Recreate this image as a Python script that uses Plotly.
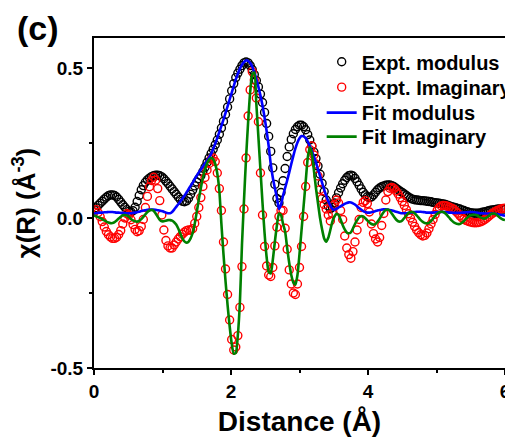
import numpy as np
import plotly.graph_objects as go

# uniform R grid of the Fourier transform (0 to 6 Å, 0.03 Å step)
distance = np.round(np.arange(201) * 0.03, 2)

expt_modulus = [
    0.027, 0.034, 0.042, 0.049, 0.056, 0.063, 0.069, 0.074, 0.077, 0.077,
    0.075, 0.070, 0.062, 0.053, 0.044, 0.036, 0.028, 0.022, 0.020, 0.024,
    0.036, 0.055, 0.075, 0.094, 0.108, 0.119, 0.127, 0.133, 0.138, 0.141,
    0.143, 0.143, 0.141, 0.137, 0.131, 0.123, 0.115, 0.106, 0.097, 0.088,
    0.079, 0.070, 0.062, 0.056, 0.054, 0.057, 0.066, 0.079, 0.093, 0.107,
    0.120, 0.131, 0.141, 0.155, 0.169, 0.185, 0.200, 0.215, 0.229, 0.244,
    0.260, 0.279, 0.300, 0.322, 0.345, 0.370, 0.397, 0.424, 0.448, 0.468,
    0.483, 0.496, 0.508, 0.517, 0.520, 0.517, 0.508, 0.495, 0.478, 0.458,
    0.437, 0.413, 0.385, 0.352, 0.315, 0.272, 0.222, 0.167, 0.112, 0.065,
    0.050, 0.085, 0.124, 0.165, 0.205, 0.237, 0.262, 0.281, 0.295, 0.304,
    0.309, 0.309, 0.304, 0.294, 0.278, 0.260, 0.240, 0.220, 0.198, 0.173,
    0.146, 0.116, 0.088, 0.060, 0.040, 0.031, 0.036, 0.050, 0.067, 0.084,
    0.100, 0.114, 0.126, 0.135, 0.141, 0.143, 0.140, 0.132, 0.121, 0.109,
    0.097, 0.086, 0.077, 0.071, 0.068, 0.070, 0.077, 0.086, 0.094, 0.100,
    0.104, 0.107, 0.109, 0.110, 0.110, 0.108, 0.104, 0.099, 0.094, 0.089,
    0.085, 0.080, 0.075, 0.070, 0.066, 0.063, 0.061, 0.060, 0.059, 0.058,
    0.058, 0.057, 0.056, 0.055, 0.054, 0.052, 0.051, 0.050, 0.049, 0.048,
    0.047, 0.045, 0.043, 0.040, 0.038, 0.036, 0.034, 0.032, 0.030, 0.027,
    0.025, 0.022, 0.020, 0.018, 0.017, 0.016, 0.016, 0.016, 0.017, 0.019,
    0.020, 0.022, 0.024, 0.026, 0.027, 0.028, 0.029, 0.030, 0.030, 0.030,
    0.030,
]

expt_imaginary = [
    0.020, 0.028, 0.018, 0.004, -0.012, -0.030, -0.045, -0.056, -0.063, -0.068,
    -0.068, -0.064, -0.055, -0.042, -0.020, 0.000, 0.014, 0.010, -0.006, -0.022,
    -0.038, -0.046, -0.042, -0.028, -0.005, 0.035, 0.072, 0.104, 0.125, 0.136,
    0.126, 0.098, 0.058, 0.010, -0.040, -0.075, -0.093, -0.100, -0.100, -0.090,
    -0.080, -0.070, -0.062, -0.054, -0.047, -0.042, -0.040, -0.041, -0.036, -0.018,
    0.005, 0.035, 0.068, 0.105, 0.135, 0.160, 0.182, 0.196, 0.200, 0.188,
    0.150, 0.098, 0.025, -0.080, -0.170, -0.255, -0.340, -0.405, -0.440, -0.430,
    -0.392, -0.298, -0.162, 0.030, 0.200, 0.340, 0.427, 0.488, 0.460, 0.400,
    0.321, 0.150, 0.010, -0.095, -0.160, -0.190, -0.195, -0.165, -0.093, -0.031,
    0.005, 0.025, 0.025, -0.034, -0.104, -0.173, -0.220, -0.250, -0.255, -0.220,
    -0.165, -0.095, 0.005, 0.105, 0.185, 0.228, 0.240, 0.210, 0.180, 0.140,
    0.095, 0.065, 0.045, 0.030, 0.010, -0.010, 0.015, 0.045, 0.060, 0.050,
    0.025, -0.005, -0.060, -0.100, -0.122, -0.134, -0.112, -0.080, -0.040, -0.005,
    0.035, 0.052, 0.058, 0.048, 0.020, -0.020, -0.052, -0.070, -0.080, -0.065,
    -0.025, 0.015, 0.060, 0.088, 0.099, 0.102, 0.098, 0.090, 0.080, 0.068,
    0.055, 0.042, 0.028, 0.014, 0.000, -0.014, -0.028, -0.040, -0.049, -0.056,
    -0.060, -0.058, -0.050, -0.036, -0.020, -0.005, 0.012, 0.026, 0.035, 0.040,
    0.042, 0.041, 0.039, 0.036, 0.033, 0.029, 0.023, 0.016, 0.008, 0.001,
    -0.004, -0.008, -0.011, -0.013, -0.015, -0.016, -0.016, -0.015, -0.013, -0.010,
    -0.006, -0.001, 0.005, 0.011, 0.016, 0.020, 0.024, 0.027, 0.030, 0.032,
    0.033,
]

fit_modulus = [
    0.015, 0.016, 0.017, 0.018, 0.018, 0.019, 0.019, 0.020, 0.020, 0.020,
    0.019, 0.018, 0.018, 0.017, 0.017, 0.016, 0.016, 0.016, 0.016, 0.017,
    0.018, 0.019, 0.021, 0.023, 0.025, 0.026, 0.027, 0.028, 0.028, 0.028,
    0.027, 0.026, 0.025, 0.023, 0.021, 0.018, 0.016, 0.016, 0.020, 0.028,
    0.037, 0.046, 0.055, 0.064, 0.074, 0.085, 0.096, 0.107, 0.118, 0.130,
    0.141, 0.152, 0.162, 0.172, 0.182, 0.192, 0.202, 0.214, 0.230, 0.248,
    0.267, 0.287, 0.307, 0.328, 0.350, 0.372, 0.395, 0.417, 0.440, 0.462,
    0.481, 0.498, 0.511, 0.520, 0.525, 0.524, 0.517, 0.505, 0.486, 0.463,
    0.437, 0.408, 0.375, 0.335, 0.290, 0.240, 0.180, 0.135, 0.100, 0.068,
    0.030, 0.045, 0.075, 0.100, 0.125, 0.152, 0.180, 0.207, 0.232, 0.252,
    0.266, 0.273, 0.272, 0.266, 0.255, 0.240, 0.223, 0.205, 0.185, 0.162,
    0.140, 0.117, 0.095, 0.074, 0.056, 0.042, 0.030, 0.028, 0.031, 0.035,
    0.039, 0.043, 0.047, 0.050, 0.052, 0.052, 0.049, 0.045, 0.039, 0.033,
    0.028, 0.023, 0.020, 0.018, 0.018, 0.019, 0.021, 0.023, 0.025, 0.027,
    0.028, 0.029, 0.029, 0.028, 0.027, 0.025, 0.023, 0.021, 0.019, 0.017,
    0.016, 0.016, 0.016, 0.017, 0.018, 0.019, 0.020, 0.021, 0.021, 0.021,
    0.020, 0.019, 0.018, 0.018, 0.018, 0.018, 0.019, 0.019, 0.020, 0.020,
    0.020, 0.020, 0.019, 0.018, 0.018, 0.017, 0.017, 0.017, 0.017, 0.018,
    0.018, 0.019, 0.019, 0.020, 0.020, 0.019, 0.018, 0.017, 0.016, 0.016,
    0.015, 0.015, 0.015, 0.015, 0.014, 0.014, 0.013, 0.012, 0.011, 0.009,
    0.008,
]

fit_imaginary = [
    0.008, 0.006, 0.003, 0.000, -0.004, -0.008, -0.012, -0.015, -0.017, -0.017,
    -0.014, -0.008, -0.002, 0.004, 0.009, 0.010, 0.008, 0.003, -0.003, -0.008,
    -0.011, -0.012, -0.010, -0.004, 0.004, 0.012, 0.020, 0.025, 0.027, 0.024,
    0.015, 0.004, -0.006, -0.011, -0.011, -0.009, -0.007, -0.007, -0.009, -0.014,
    -0.022, -0.035, -0.052, -0.068, -0.078, -0.082, -0.079, -0.068, -0.050, -0.020,
    0.020, 0.062, 0.100, 0.135, 0.162, 0.182, 0.195, 0.200, 0.196, 0.180,
    0.148, 0.090, -0.020, -0.120, -0.210, -0.290, -0.360, -0.418, -0.452, -0.450,
    -0.390, -0.280, -0.090, 0.060, 0.200, 0.320, 0.420, 0.478, 0.485, 0.380,
    0.270, 0.160, 0.050, -0.050, -0.130, -0.180, -0.185, -0.140, -0.080, -0.025,
    0.015, 0.010, -0.020, -0.045, -0.100, -0.150, -0.190, -0.215, -0.222, -0.190,
    -0.120, -0.040, 0.040, 0.120, 0.200, 0.236, 0.215, 0.160, 0.100, 0.049,
    0.000, -0.038, -0.068, -0.079, -0.066, -0.040, -0.012, 0.005, 0.014, 0.010,
    -0.005, -0.023, -0.038, -0.048, -0.051, -0.048, -0.035, -0.020, -0.008, 0.002,
    0.006, 0.005, -0.001, -0.008, -0.015, -0.020, -0.022, -0.020, -0.012, -0.002,
    0.010, 0.020, 0.027, 0.028, 0.023, 0.014, 0.004, -0.005, -0.011, -0.012,
    -0.008, 0.000, 0.009, 0.016, 0.020, 0.020, 0.016, 0.009, 0.001, -0.007,
    -0.013, -0.017, -0.018, -0.016, -0.010, -0.002, 0.007, 0.014, 0.019, 0.021,
    0.020, 0.015, 0.008, 0.000, -0.008, -0.014, -0.018, -0.020, -0.020, -0.016,
    -0.010, -0.003, 0.003, 0.008, 0.010, 0.011, 0.010, 0.006, 0.002, -0.001,
    -0.002, 0.001, 0.006, 0.012, 0.015, 0.014, 0.010, 0.004, -0.001, -0.005,
    -0.007,
]

series_names = ["Expt. modulus", "Expt. Imaginary", "Fit modulus", "Fit Imaginary"]
x_tickvals = [0, 2, 4, 6]
x_ticktext = ["0", "2", "4", "6"]
x_minor = [1, 3, 5]
y_tickvals = [-0.5, 0.0, 0.5]
y_ticktext = ["-0.5", "0.0", "0.5"]
y_minor = [-0.25, 0.25]

FONT = "Liberation Sans"

fig = go.Figure()
fig.add_trace(go.Scatter(
    x=distance, y=expt_modulus, mode="markers", name=series_names[0], legend="legend",
    marker=dict(symbol="circle-open", size=8, color="#000000", line=dict(width=1.4, color="#000000")),
))
fig.add_trace(go.Scatter(
    x=distance, y=expt_imaginary, mode="markers", name=series_names[1], legend="legend2",
    marker=dict(symbol="circle-open", size=8, color="#FF0000", line=dict(width=1.4, color="#FF0000")),
))
fig.add_trace(go.Scatter(
    x=distance, y=fit_modulus, mode="lines", name=series_names[2], legend="legend3",
    line=dict(color="#0000FF", width=2.6, shape="spline", smoothing=0.6),
))
fig.add_trace(go.Scatter(
    x=distance, y=fit_imaginary, mode="lines", name=series_names[3], legend="legend4",
    line=dict(color="#008000", width=2.6, shape="spline", smoothing=0.6),
))

axis_common = dict(
    showline=True, linewidth=2, linecolor="black", mirror=True,
    ticks="outside", ticklen=5, tickwidth=2, tickcolor="black",
    showgrid=False, zeroline=False,
    tickfont=dict(family=FONT, size=19, color="black", weight="bold"),
)

fig.update_xaxes(
    range=[0, 6], tickmode="array", tickvals=x_tickvals, ticktext=x_ticktext,
    minor=dict(tickmode="array", tickvals=x_minor, ticks="outside", ticklen=3, tickwidth=2, tickcolor="black"),
    title=dict(text="Distance (Å)", font=dict(family=FONT, size=28, color="black", weight="bold"), standoff=11),
    **axis_common,
)
fig.update_yaxes(
    range=[-0.5, 0.6], tickmode="array", tickvals=y_tickvals, ticktext=y_ticktext,
    minor=dict(tickmode="array", tickvals=y_minor, ticks="outside", ticklen=3, tickwidth=2, tickcolor="black"),
    title=dict(text="χ(R) (Å<sup>-3</sup>)", font=dict(family=FONT, size=26, color="black", weight="bold"), standoff=8),
    **axis_common,
)

legend_style = dict(
    x=0.554, xanchor="left", yanchor="middle",
    bgcolor="rgba(0,0,0,0)", borderwidth=0,
    font=dict(family=FONT, size=20, color="black", weight="bold"),
    itemwidth=30,
)
legend_rows = [0.928, 0.851, 0.774, 0.701]

fig.update_layout(
    width=505, height=429,
    margin=dict(l=86, r=8, t=30, b=69, autoexpand=False),
    paper_bgcolor="white", plot_bgcolor="white",
    showlegend=True,
    legend=dict(y=legend_rows[0], **legend_style),
    legend2=dict(y=legend_rows[1], **legend_style),
    legend3=dict(y=legend_rows[2], **legend_style),
    legend4=dict(y=legend_rows[3], **legend_style),
    annotations=[dict(
        text="(c)", xref="paper", yref="paper", x=-0.192, y=1.095,
        xanchor="left", yanchor="top", showarrow=False,
        font=dict(family=FONT, size=34, color="black", weight="bold"),
    )],
)

fig.write_html("out.html")
